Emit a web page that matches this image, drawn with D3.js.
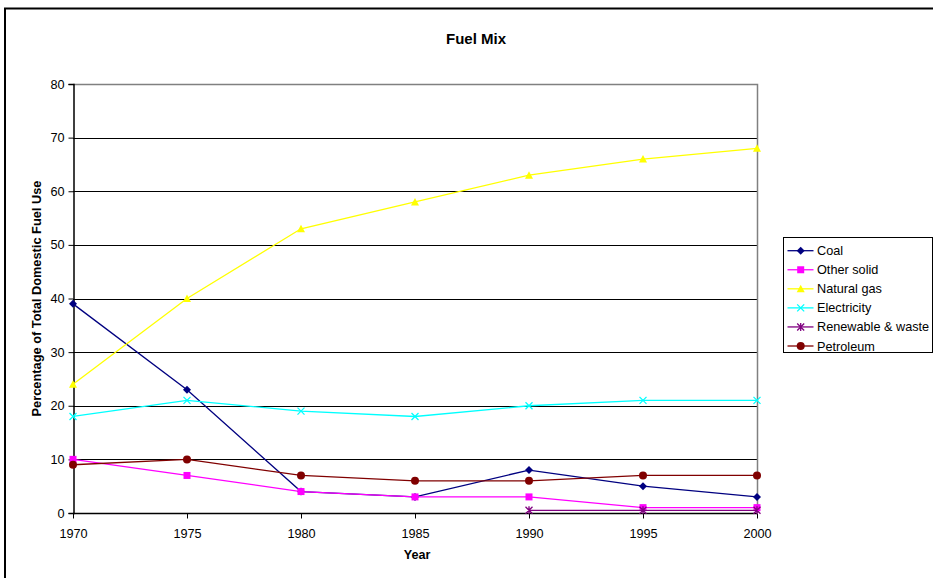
<!DOCTYPE html>
<html>
<head>
<meta charset="utf-8">
<script src="https://cdn.jsdelivr.net/npm/d3@7"></script>
<style>
  html, body { margin: 0; padding: 0; background: #fff; }
  svg { display: block; font-family: Arial, "Liberation Sans", sans-serif; }
</style>
</head>
<body>
<svg id="chart" width="933" height="578"></svg>
<script>
// Domestic fuel use shares, 1970–2000
const years = [1970, 1975, 1980, 1985, 1990, 1995, 2000];
const coal = [39, 23, 4, 3, 8, 5, 3];
const otherSolid = [10, 7, 4, 3, 3, 1, 1];
const naturalGas = [24, 40, 53, 58, 63, 66, 68];
const electricity = [18, 21, 19, 18, 20, 21, 21];
const renewable = [null, null, null, null, 0.5, 0.5, 0.5];
const petroleum = [9, 10, 7, 6, 6, 7, 7];
const yTicks = [0, 10, 20, 30, 40, 50, 60, 70, 80];

const series = [
  { name: "Coal", values: coal, color: "#000080", marker: "diamond" },
  { name: "Other solid", values: otherSolid, color: "#FF00FF", marker: "square" },
  { name: "Natural gas", values: naturalGas, color: "#FFFF00", marker: "triangle" },
  { name: "Electricity", values: electricity, color: "#00FFFF", marker: "cross" },
  { name: "Renewable & waste", values: renewable, color: "#800080", marker: "star" },
  { name: "Petroleum", values: petroleum, color: "#800000", marker: "circle" }
];

const FONT = "Arial, 'Liberation Sans', sans-serif";
const svg = d3.select("#chart");

// outer chart frame (extends past right and bottom edges)
svg.append("rect")
  .attr("x", 5).attr("y", 8.5).attr("width", 940).attr("height", 600)
  .attr("fill", "#fff").attr("stroke", "#000").attr("stroke-width", 2);

const plot = { left: 73, right: 757, top: 84, bottom: 513 };

const x = d3.scalePoint().domain(years).range([plot.left, plot.right]);
const y = d3.scaleLinear().domain([0, 80]).range([plot.bottom, plot.top]);

// gridlines
svg.append("g")
  .selectAll("line")
  .data(yTicks.filter(t => t > 0 && t < 80))
  .join("line")
  .attr("x1", plot.left).attr("x2", plot.right)
  .attr("y1", d => Math.round(y(d)) + 0.5).attr("y2", d => Math.round(y(d)) + 0.5)
  .attr("stroke", "#000").attr("stroke-width", 1);

// plot-area border (top and right)
svg.append("path")
  .attr("d", `M${plot.left},${plot.top + 0.5}H${plot.right + 0.5}V${plot.bottom}`)
  .attr("fill", "none").attr("stroke", "#808080").attr("stroke-width", 1.5);

// axes
const yAxis = svg.append("g")
  .attr("transform", `translate(${plot.left + 0.5},0)`)
  .call(d3.axisLeft(y).tickValues(yTicks).tickSize(5).tickPadding(4));
const xAxis = svg.append("g")
  .attr("transform", `translate(0,${plot.bottom + 0.5})`)
  .call(d3.axisBottom(x).tickSize(5).tickPadding(10));

[yAxis, xAxis].forEach(g => {
  g.select(".domain").attr("stroke", "#000").attr("stroke-width", 1.5);
  g.selectAll(".tick line").attr("stroke", "#000");
  g.selectAll(".tick text").attr("fill", "#000").attr("font-size", 12.7)
    .attr("font-family", FONT);
});
xAxis.select(".domain").attr("d", `M${plot.left},0H${plot.right}`);

// titles
svg.append("text")
  .attr("x", 476).attr("y", 43.5).attr("text-anchor", "middle")
  .attr("font-size", 15).attr("font-weight", "bold").text("Fuel Mix");
svg.append("text")
  .attr("x", 417).attr("y", 559).attr("text-anchor", "middle")
  .attr("font-size", 12.6).attr("font-weight", "bold").text("Year");
svg.append("text")
  .attr("transform", `translate(40.5,${(plot.top + plot.bottom) / 2}) rotate(-90)`)
  .attr("text-anchor", "middle")
  .attr("font-size", 12.8).attr("font-weight", "bold")
  .text("Percentage of Total Domestic Fuel Use");

// marker drawing
function drawMarker(g, type, color) {
  switch (type) {
    case "diamond":
      g.append("path").attr("d", "M0,-4L4,0L0,4L-4,0Z").attr("fill", color);
      break;
    case "square":
      g.append("rect").attr("x", -3.5).attr("y", -3.5).attr("width", 7).attr("height", 7).attr("fill", color);
      break;
    case "triangle":
      g.append("path").attr("d", "M0,-4L4,3.5L-4,3.5Z").attr("fill", color);
      break;
    case "cross":
      g.append("path").attr("d", "M-3.5,-3.5L3.5,3.5M-3.5,3.5L3.5,-3.5")
        .attr("stroke", color).attr("stroke-width", 1.3).attr("fill", "none");
      break;
    case "star":
      g.append("path").attr("d", "M-3.5,-3.5L3.5,3.5M-3.5,3.5L3.5,-3.5M0,-4V4")
        .attr("stroke", color).attr("stroke-width", 1.3).attr("fill", "none");
      break;
    case "circle":
      g.append("circle").attr("r", 4).attr("fill", color);
      break;
  }
}

const line = d3.line()
  .defined(d => d.v !== null)
  .x(d => x(d.year))
  .y(d => y(d.v));

series.forEach(s => {
  const pts = years.map((yr, i) => ({ year: yr, v: s.values[i] }));
  svg.append("path")
    .datum(pts)
    .attr("d", line)
    .attr("fill", "none")
    .attr("stroke", s.color)
    .attr("stroke-width", 1.3);
  pts.filter(p => p.v !== null).forEach(p => {
    const g = svg.append("g").attr("transform", `translate(${x(p.year)},${y(p.v)})`);
    drawMarker(g, s.marker, s.color);
  });
});

// legend
const legend = svg.append("g").attr("transform", "translate(783,237)");
legend.append("rect")
  .attr("x", 0.5).attr("y", 0.5).attr("width", 149).attr("height", 115)
  .attr("fill", "#fff").attr("stroke", "#000").attr("stroke-width", 1);
series.forEach((s, i) => {
  const cy = 13.7 + i * 19.06;
  legend.append("line")
    .attr("x1", 4.5).attr("x2", 30.5).attr("y1", cy).attr("y2", cy)
    .attr("stroke", s.color).attr("stroke-width", 1.3);
  const g = legend.append("g").attr("transform", `translate(17.7,${cy})`);
  drawMarker(g, s.marker, s.color);
  legend.append("text")
    .attr("x", 34).attr("y", cy + 4.5)
    .attr("font-size", 12.7).attr("font-family", FONT).text(s.name);
});
</script>
</body>
</html>
